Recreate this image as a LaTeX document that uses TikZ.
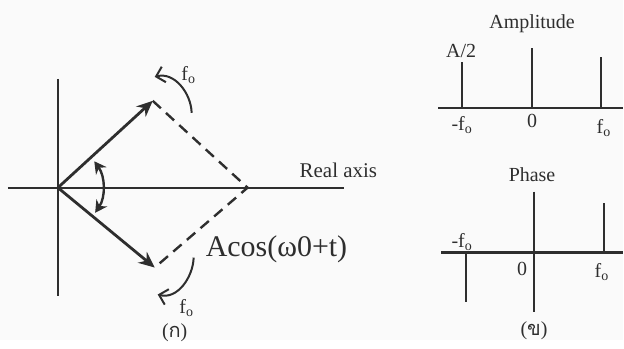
\documentclass[tikz,border=0pt]{standalone}
\usepackage{fontspec}
\setmainfont{Liberation Serif}
\newfontfamily\thaifont[Script=Thai]{Loma}
\usetikzlibrary{calc, arrows.meta}
\definecolor{ink}{HTML}{2E2E2E}
\definecolor{paper}{HTML}{FAFAFA}

\begin{document}
\begin{tikzpicture}[
    x=5pt, y=5pt,
    >=Stealth,
    line width=1.1pt,
    color=ink,
    font=\fontsize{10}{12}\selectfont,
    phasor/.style={-{Stealth[length=8pt,width=7pt]}, line width=1.4pt},
    spin/.style={-{Straight Barb[length=4pt,width=8pt]}, line width=1pt},
    guide/.style={dash pattern=on 5.5pt off 3.5pt, line width=1.2pt}
]

    % Background (fixes the page size)
    \fill[paper] (0,0) rectangle (62.4,34.1);

    % Phasor diagram (left)
    \coordinate (O) at (5.8,15.3);
    \coordinate (U) at (15.3,24.0);
    \coordinate (L) at (15.5,7.3);
    \coordinate (R) at (24.8,15.3);
    \coordinate (xl) at (0.8,15.3);
    \coordinate (xr) at (34.5,15.3);
    \coordinate (yt) at (5.8,26.2);
    \coordinate (yb) at (5.8,4.4);

    % Axes
    \draw (xl) -- (xr);
    \draw (yt) -- (yb);
    \node[anchor=south, font=\fontsize{10.5}{12}\selectfont] (real) at (33.9,15.5) {Real axis};

    % Dashed sum and the two phasors
    \draw[guide] (U) -- (R) -- (L);
    \draw[phasor] (O) -- (U);
    \draw[phasor] (O) -- (L);

    % Angle between the phasors
    \draw[{Stealth[length=6pt,width=6.5pt]}-{Stealth[length=6pt,width=6.5pt]}, line width=1.2pt]
        ($(O)+(36:4.5)$) arc[start angle=36, end angle=-34, radius=4.5];

    % Rotation arrows
    \coordinate (ru) at (19.2,22.8);
    \coordinate (rut) at (15.5,26.4);
    \coordinate (rd) at (19.4,8.3);
    \coordinate (rdt) at (15.8,4.6);
    \draw[spin] (ru) to[out=92, in=15] (rut);
    \draw[spin] (rd) to[out=-92, in=-15] (rdt);
    \node (fup) at (18.9,26.6) {f\textsubscript{o}};
    \node (fdown) at (18.7,3.2) {f\textsubscript{o}};

    \node[font=\fontsize{15}{18}\selectfont] (sig) at (27.7,9.1) {Acos(ω0+t)};
    \node (capa) at (17.5,0.8) {({\thaifont ก})};

    % Amplitude spectrum (right, top)
    \node (amp) at (53.3,31.7) {Amplitude};
    \coordinate (al) at (43.9,23.3);
    \coordinate (ar) at (62.4,23.3);
    \draw (al) -- (ar);
    \draw (46.3,23.3) -- (46.3,27.9);
    \draw (53.3,23.3) -- (53.3,29.3);
    \draw (60.2,23.3) -- (60.2,28.4);
    \node (half) at (46.2,29.0) {A/2};
    \node (amneg) at (46.3,21.6) {-f\textsubscript{o}};
    \node (amzero) at (53.3,22.0) {0};
    \node (ampos) at (60.5,21.3) {f\textsubscript{o}};

    % Phase spectrum (right, bottom)
    \node (ph) at (53.3,16.6) {Phase};
    \coordinate (pl) at (44.2,8.8);
    \coordinate (pr) at (62.4,8.8);
    \draw (pl) -- (pr);
    \draw (53.5,14.9) -- (53.5,2.8);
    \draw (60.5,8.8) -- (60.5,13.8);
    \draw (46.7,8.8) -- (46.7,3.8);
    \node (phneg) at (46.3,9.9) {-f\textsubscript{o}};
    \node (phzero) at (52.3,7.2) {0};
    \node (phpos) at (60.3,6.8) {f\textsubscript{o}};
    \node (capb) at (53.5,1.0) {({\thaifont ข})};

\end{tikzpicture}
\end{document}
